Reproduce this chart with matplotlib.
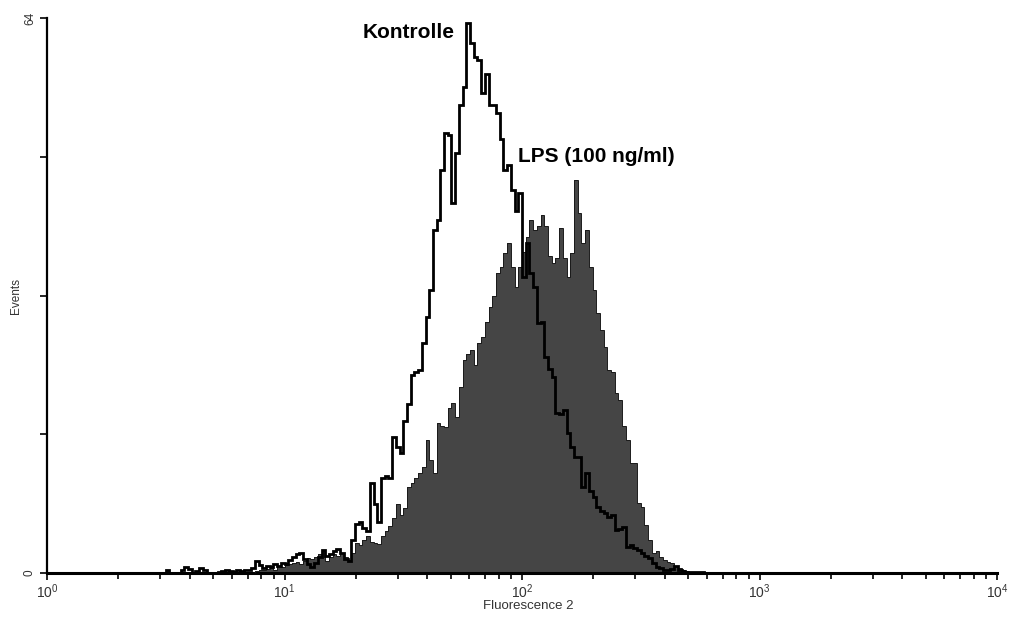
import numpy as np
import matplotlib
matplotlib.use("Agg")
import matplotlib.pyplot as plt
from matplotlib.ticker import LogLocator, NullFormatter

plt.rcParams['font.family'] = ['Liberation Sans', 'DejaVu Sans']

# 256 channel log scale, 64 channels per decade (10^0 .. 10^4)
channels_per_decade = 64

# Kontrolle histogram, counts starting at channel 30
kontrolle_first = 30
kontrolle_counts = [
    0, 0, 0.3, 0, 0, 0, 0.3, 0.7, 0.5, 0,
    0.2, 0.6, 0.4, 0, 0, 0, 0.1, 0.2, 0.3, 0.2,
    0.1, 0.3, 0.2, 0.4, 0.3, 0.6, 1.4, 0.9, 0.6, 0.8,
    0.7, 1.0, 0.8, 1.2, 1.0, 1.5, 1.8, 2.2, 2.3, 1.6,
    1.0, 0.7, 1.2, 1.9, 2.6, 2.0, 2.2, 2.5, 2.8, 2.3,
    1.6, 1.4, 3.8, 5.6, 5.9, 5.2, 4.8, 10.4, 8.0, 5.9,
    11.0, 11.2, 11.0, 15.7, 14.5, 13.8, 17.5, 19.5, 22.8, 23.2,
    23.4, 26.5, 29.5, 32.6, 39.6, 40.7, 46.5, 50.7, 50.5, 42.7,
    48.4, 54.0, 56.0, 63.4, 61.1, 59.5, 59.2, 55.3, 57.5, 54.0,
    54.0, 53.0, 50.0, 46.5, 47.0, 44.2, 41.8, 43.8, 34.1, 38.0,
    34.6, 33.0, 28.8, 29.0, 24.9, 23.5, 22.6, 18.5, 18.3, 18.8,
    16.1, 14.5, 13.4, 13.4, 9.9, 11.5, 9.5, 8.8, 7.6, 7.2,
    6.9, 6.5, 6.7, 5.0, 5.1, 5.3, 3.0, 3.2, 2.9, 2.7,
    2.3, 2.0, 1.7, 1.2, 0.7, 0.6, 0.4, 0.3, 0.5, 0.8,
    0.3, 0.2, 0.1, 0.1, 0.1, 0.1, 0.1, 0, 0,
]

# LPS (100 ng/ml) histogram, counts starting at channel 55
lps_first = 55
lps_counts = [
    0, 0.2, 0.4, 0.3, 0.5, 0.6, 0.4, 0.8, 0.7, 0.9,
    1.0, 1.2, 1.3, 1.0, 1.4, 1.7, 1.6, 1.8, 2.2, 2.7,
    1.4, 1.9, 2.2, 2.0, 2.3, 1.8, 1.5, 2.3, 3.5, 3.2,
    3.8, 4.3, 3.6, 3.5, 3.3, 4.3, 4.8, 5.4, 6.3, 8.0,
    6.7, 7.5, 9.9, 10.4, 11.0, 11.5, 12.2, 15.3, 13.0, 11.5,
    17.3, 17.0, 16.8, 19.0, 19.6, 18.0, 21.5, 24.6, 25.2, 25.7,
    24.0, 26.5, 27.2, 29.0, 30.7, 32.0, 34.6, 35.3, 36.9, 38.0,
    35.3, 33.0, 35.3, 37.0, 38.8, 40.7, 39.6, 40.0, 41.3, 40.0,
    36.5, 35.8, 36.3, 39.8, 36.3, 34.1, 36.9, 45.3, 41.5, 38.0,
    39.6, 35.3, 32.6, 30.0, 28.0, 26.1, 23.4, 23.2, 20.8, 20.0,
    17.0, 15.3, 12.7, 12.7, 8.1, 7.6, 5.5, 3.8, 2.3, 2.5,
    1.8, 1.5, 1.3, 1.2, 0.8, 0.6, 0.3, 0.2, 0.1, 0.1,
    0.1, 0.1, 0,
]

y_ticks = [0, 16, 32, 48, 64]
y_tick_labels = ['0', '', '', '', '64']


def channel_edges(first, n):
    ch = np.arange(first, first + n + 1)
    return 10 ** (ch / channels_per_decade)


fig = plt.figure(figsize=(10.16, 6.21), dpi=100)
ax = fig.add_axes([47 / 1016, 48 / 621, 950 / 1016, 555 / 621])

# LPS filled histogram
lps_edges = channel_edges(lps_first, len(lps_counts))
ax.stairs(lps_counts, lps_edges, fill=True, color='#454545', zorder=2)
ax.stairs(lps_counts, lps_edges, color='#1a1a1a', linewidth=0.7, zorder=3)

# Kontrolle outline
k_edges = channel_edges(kontrolle_first, len(kontrolle_counts))
ax.stairs(kontrolle_counts, k_edges, color='black', linewidth=2.0, zorder=4)

ax.set_xscale('log')
ax.set_xlim(1, 1e4)
ax.set_ylim(0, 64)

for s in ['top', 'right']:
    ax.spines[s].set_visible(False)
ax.spines['bottom'].set_linewidth(2.2)
ax.spines['left'].set_linewidth(1.6)

ax.xaxis.set_major_locator(LogLocator(base=10, numticks=10))
ax.xaxis.set_minor_locator(LogLocator(base=10, subs=np.arange(2, 10), numticks=20))
ax.xaxis.set_minor_formatter(NullFormatter())
ax.tick_params(axis='x', which='major', direction='out', length=5, width=1.2,
               labelsize=10, pad=2, colors='black', labelcolor='#333333')
ax.tick_params(axis='x', which='minor', direction='out', length=4, width=1.2)

ax.set_yticks(y_ticks)
ax.set_yticklabels(y_tick_labels, rotation=90, va='center')
ax.tick_params(axis='y', direction='out', length=5, width=1.2, labelsize=8.5,
               pad=3, labelcolor='#333333')

ax.set_xlabel('Fluorescence 2', fontsize=9.5, color='#333333')
ax.xaxis.set_label_coords(0.507, -0.048)
ax.set_ylabel('Events', fontsize=8.5, color='#333333')
ax.yaxis.set_label_coords(-0.026, 0.5)

ax.text(52, 62.3, 'Kontrolle', fontsize=15, fontweight='bold', ha='right', va='center')
ax.text(96, 48, 'LPS (100 ng/ml)', fontsize=15, fontweight='bold', ha='left', va='center')

fig.savefig('out.png', dpi=100, facecolor='white')
